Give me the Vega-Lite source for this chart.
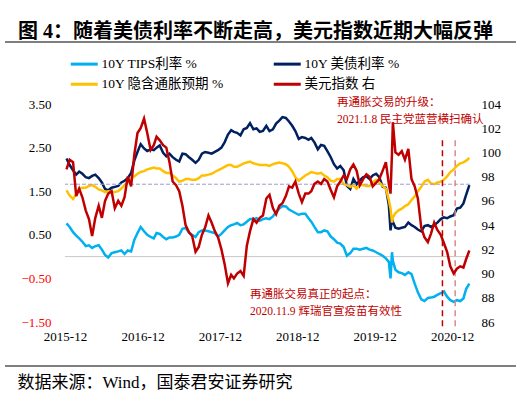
{
  "$schema": "https://vega.github.io/schema/vega-lite/v6.json",
  "width": 405,
  "height": 218,
  "autosize": {"type": "none"},
  "padding": {"left": 65, "top": 104, "right": 46, "bottom": 76},
  "background": "white",
  "config": {"view": {"stroke": null}, "font": "Liberation Serif, Noto Sans CJK SC"},
  "title": {
    "text": "图 4：随着美债利率不断走高，美元指数近期大幅反弹",
    "anchor": "start", "frame": "group", "dx": -47, "offset": -4, "dy": 17,
    "baseline": "bottom",
    "font": "Liberation Serif, Noto Sans CJK SC", "fontSize": 20, "fontWeight": "bold", "color": "black"
  },
  "datasets": {
    "main": [
      {"d":"2016-01-01","tips":0.76,"ust":2.25,"bei":1.52,"dxy":98.6},
      {"d":"2016-01-16","tips":0.68,"ust":2.10,"bei":1.40,"dxy":99.4},
      {"d":"2016-02-01","tips":0.56,"ust":1.98,"bei":1.32,"dxy":99.2},
      {"d":"2016-02-16","tips":0.48,"ust":1.88,"bei":1.44,"dxy":96.4},
      {"d":"2016-03-01","tips":0.42,"ust":1.95,"bei":1.56,"dxy":97.0},
      {"d":"2016-03-16","tips":0.34,"ust":1.90,"bei":1.58,"dxy":96.3},
      {"d":"2016-04-01","tips":0.24,"ust":1.82,"bei":1.58,"dxy":95.2},
      {"d":"2016-04-16","tips":0.26,"ust":1.80,"bei":1.62,"dxy":94.5},
      {"d":"2016-05-01","tips":0.20,"ust":1.85,"bei":1.64,"dxy":93.1},
      {"d":"2016-05-16","tips":0.24,"ust":1.88,"bei":1.60,"dxy":94.6},
      {"d":"2016-06-01","tips":0.26,"ust":1.80,"bei":1.54,"dxy":95.6},
      {"d":"2016-06-16","tips":0.16,"ust":1.70,"bei":1.52,"dxy":94.6},
      {"d":"2016-07-01","tips":0.04,"ust":1.55,"bei":1.48,"dxy":96.0},
      {"d":"2016-07-16","tips":-0.02,"ust":1.52,"bei":1.50,"dxy":96.6},
      {"d":"2016-08-01","tips":0.08,"ust":1.58,"bei":1.48,"dxy":96.8},
      {"d":"2016-08-16","tips":0.10,"ust":1.60,"bei":1.48,"dxy":95.4},
      {"d":"2016-09-01","tips":0.12,"ust":1.62,"bei":1.50,"dxy":96.0},
      {"d":"2016-09-16","tips":0.14,"ust":1.70,"bei":1.56,"dxy":95.6},
      {"d":"2016-10-01","tips":0.06,"ust":1.74,"bei":1.64,"dxy":96.3},
      {"d":"2016-10-16","tips":0.14,"ust":1.80,"bei":1.70,"dxy":98.0},
      {"d":"2016-11-01","tips":0.12,"ust":1.92,"bei":1.80,"dxy":97.2},
      {"d":"2016-11-16","tips":0.38,"ust":2.20,"bei":1.84,"dxy":99.8},
      {"d":"2016-12-01","tips":0.54,"ust":2.40,"bei":1.90,"dxy":101.6},
      {"d":"2016-12-16","tips":0.68,"ust":2.58,"bei":1.94,"dxy":102.0},
      {"d":"2017-01-01","tips":0.58,"ust":2.48,"bei":1.96,"dxy":102.8},
      {"d":"2017-01-16","tips":0.50,"ust":2.42,"bei":2.00,"dxy":101.6},
      {"d":"2017-02-01","tips":0.45,"ust":2.46,"bei":2.02,"dxy":100.2},
      {"d":"2017-02-16","tips":0.42,"ust":2.44,"bei":2.04,"dxy":100.6},
      {"d":"2017-03-01","tips":0.54,"ust":2.50,"bei":2.02,"dxy":101.3},
      {"d":"2017-03-16","tips":0.52,"ust":2.55,"bei":2.02,"dxy":101.0},
      {"d":"2017-04-01","tips":0.45,"ust":2.38,"bei":1.96,"dxy":100.6},
      {"d":"2017-04-16","tips":0.40,"ust":2.30,"bei":1.92,"dxy":100.4},
      {"d":"2017-05-01","tips":0.44,"ust":2.36,"bei":1.92,"dxy":99.2},
      {"d":"2017-05-16","tips":0.44,"ust":2.28,"bei":1.86,"dxy":97.6},
      {"d":"2017-06-01","tips":0.46,"ust":2.22,"bei":1.80,"dxy":97.3},
      {"d":"2017-06-16","tips":0.50,"ust":2.18,"bei":1.72,"dxy":96.8},
      {"d":"2017-07-01","tips":0.64,"ust":2.36,"bei":1.74,"dxy":95.6},
      {"d":"2017-07-16","tips":0.66,"ust":2.35,"bei":1.78,"dxy":94.0},
      {"d":"2017-08-01","tips":0.55,"ust":2.28,"bei":1.78,"dxy":93.4},
      {"d":"2017-08-16","tips":0.50,"ust":2.22,"bei":1.76,"dxy":93.1},
      {"d":"2017-09-01","tips":0.45,"ust":2.15,"bei":1.76,"dxy":91.8},
      {"d":"2017-09-16","tips":0.56,"ust":2.22,"bei":1.80,"dxy":92.2},
      {"d":"2017-10-01","tips":0.60,"ust":2.36,"bei":1.86,"dxy":93.2},
      {"d":"2017-10-16","tips":0.60,"ust":2.40,"bei":1.86,"dxy":93.8},
      {"d":"2017-11-01","tips":0.58,"ust":2.38,"bei":1.88,"dxy":94.8},
      {"d":"2017-11-16","tips":0.56,"ust":2.36,"bei":1.90,"dxy":94.2},
      {"d":"2017-12-01","tips":0.54,"ust":2.40,"bei":1.94,"dxy":93.5},
      {"d":"2017-12-16","tips":0.46,"ust":2.44,"bei":1.98,"dxy":93.0},
      {"d":"2018-01-01","tips":0.52,"ust":2.50,"bei":2.02,"dxy":92.0},
      {"d":"2018-01-16","tips":0.60,"ust":2.62,"bei":2.06,"dxy":90.8},
      {"d":"2018-02-01","tips":0.68,"ust":2.80,"bei":2.10,"dxy":89.2},
      {"d":"2018-02-16","tips":0.72,"ust":2.90,"bei":2.10,"dxy":89.9},
      {"d":"2018-03-01","tips":0.74,"ust":2.86,"bei":2.06,"dxy":89.6},
      {"d":"2018-03-16","tips":0.77,"ust":2.84,"bei":2.06,"dxy":90.0},
      {"d":"2018-04-01","tips":0.72,"ust":2.78,"bei":2.10,"dxy":90.2},
      {"d":"2018-04-16","tips":0.74,"ust":2.92,"bei":2.14,"dxy":89.8},
      {"d":"2018-05-01","tips":0.80,"ust":2.95,"bei":2.16,"dxy":92.3},
      {"d":"2018-05-16","tips":0.86,"ust":3.06,"bei":2.18,"dxy":93.5},
      {"d":"2018-06-01","tips":0.86,"ust":2.92,"bei":2.14,"dxy":94.5},
      {"d":"2018-06-16","tips":0.88,"ust":2.94,"bei":2.12,"dxy":94.2},
      {"d":"2018-07-01","tips":0.82,"ust":2.86,"bei":2.10,"dxy":94.6},
      {"d":"2018-07-16","tips":0.86,"ust":2.88,"bei":2.10,"dxy":94.8},
      {"d":"2018-08-01","tips":0.88,"ust":3.00,"bei":2.10,"dxy":96.2},
      {"d":"2018-08-16","tips":0.86,"ust":2.88,"bei":2.08,"dxy":96.5},
      {"d":"2018-09-01","tips":0.92,"ust":2.92,"bei":2.12,"dxy":95.4},
      {"d":"2018-09-16","tips":1.02,"ust":3.05,"bei":2.14,"dxy":94.9},
      {"d":"2018-10-01","tips":1.10,"ust":3.12,"bei":2.16,"dxy":95.6},
      {"d":"2018-10-16","tips":1.16,"ust":3.20,"bei":2.14,"dxy":95.8},
      {"d":"2018-11-01","tips":1.15,"ust":3.18,"bei":2.12,"dxy":96.4},
      {"d":"2018-11-16","tips":1.08,"ust":3.10,"bei":2.06,"dxy":97.2},
      {"d":"2018-12-01","tips":1.04,"ust":3.00,"bei":1.96,"dxy":97.1},
      {"d":"2018-12-16","tips":1.00,"ust":2.88,"bei":1.82,"dxy":97.6},
      {"d":"2019-01-01","tips":0.96,"ust":2.70,"bei":1.74,"dxy":96.6},
      {"d":"2019-01-16","tips":0.98,"ust":2.74,"bei":1.80,"dxy":95.9},
      {"d":"2019-02-01","tips":0.98,"ust":2.72,"bei":1.86,"dxy":96.6},
      {"d":"2019-02-16","tips":0.88,"ust":2.68,"bei":1.90,"dxy":96.6},
      {"d":"2019-03-01","tips":0.80,"ust":2.72,"bei":1.94,"dxy":96.8},
      {"d":"2019-03-16","tips":0.68,"ust":2.62,"bei":1.92,"dxy":97.4},
      {"d":"2019-04-01","tips":0.56,"ust":2.46,"bei":1.90,"dxy":97.6},
      {"d":"2019-04-16","tips":0.56,"ust":2.56,"bei":1.92,"dxy":97.4},
      {"d":"2019-05-01","tips":0.60,"ust":2.54,"bei":1.86,"dxy":97.8},
      {"d":"2019-05-16","tips":0.58,"ust":2.42,"bei":1.82,"dxy":97.6},
      {"d":"2019-06-01","tips":0.46,"ust":2.28,"bei":1.74,"dxy":96.9},
      {"d":"2019-06-16","tips":0.40,"ust":2.12,"bei":1.72,"dxy":96.3},
      {"d":"2019-07-01","tips":0.32,"ust":2.02,"bei":1.78,"dxy":97.2},
      {"d":"2019-07-16","tips":0.30,"ust":2.08,"bei":1.78,"dxy":97.6},
      {"d":"2019-08-01","tips":0.22,"ust":1.98,"bei":1.66,"dxy":98.1},
      {"d":"2019-08-16","tips":0.02,"ust":1.62,"bei":1.64,"dxy":97.8},
      {"d":"2019-09-01","tips":0.08,"ust":1.55,"bei":1.60,"dxy":98.6},
      {"d":"2019-09-16","tips":0.18,"ust":1.78,"bei":1.64,"dxy":99.0},
      {"d":"2019-10-01","tips":0.18,"ust":1.66,"bei":1.56,"dxy":98.5},
      {"d":"2019-10-16","tips":0.16,"ust":1.75,"bei":1.64,"dxy":97.3},
      {"d":"2019-11-01","tips":0.18,"ust":1.82,"bei":1.64,"dxy":97.8},
      {"d":"2019-11-16","tips":0.20,"ust":1.84,"bei":1.62,"dxy":98.2},
      {"d":"2019-12-01","tips":0.16,"ust":1.78,"bei":1.62,"dxy":98.0},
      {"d":"2019-12-16","tips":0.14,"ust":1.86,"bei":1.70,"dxy":97.2},
      {"d":"2020-01-01","tips":0.10,"ust":1.90,"bei":1.76,"dxy":97.5},
      {"d":"2020-01-16","tips":0.06,"ust":1.82,"bei":1.70,"dxy":97.8},
      {"d":"2020-02-01","tips":0.02,"ust":1.60,"bei":1.62,"dxy":98.5},
      {"d":"2020-02-16","tips":-0.04,"ust":1.58,"bei":1.56,"dxy":99.2},
      {"d":"2020-03-01","tips":-0.12,"ust":1.18,"bei":1.30,"dxy":97.4},
      {"d":"2020-03-09","tips":-0.50,"ust":0.60,"bei":1.10,"dxy":96.6},
      {"d":"2020-03-16","tips":0.10,"ust":0.86,"bei":0.78,"dxy":100.0},
      {"d":"2020-03-20","tips":-0.10,"ust":0.80,"bei":0.90,"dxy":102.5},
      {"d":"2020-04-01","tips":-0.30,"ust":0.66,"bei":1.00,"dxy":100.0},
      {"d":"2020-04-16","tips":-0.36,"ust":0.64,"bei":1.06,"dxy":99.8},
      {"d":"2020-05-01","tips":-0.38,"ust":0.66,"bei":1.10,"dxy":100.1},
      {"d":"2020-05-16","tips":-0.42,"ust":0.68,"bei":1.16,"dxy":99.4},
      {"d":"2020-06-01","tips":-0.36,"ust":0.78,"bei":1.20,"dxy":100.3},
      {"d":"2020-06-16","tips":-0.40,"ust":0.72,"bei":1.30,"dxy":97.8},
      {"d":"2020-07-01","tips":-0.62,"ust":0.68,"bei":1.38,"dxy":97.2},
      {"d":"2020-07-16","tips":-0.82,"ust":0.62,"bei":1.50,"dxy":96.2},
      {"d":"2020-08-01","tips":-0.98,"ust":0.58,"bei":1.60,"dxy":93.8},
      {"d":"2020-08-16","tips":-1.02,"ust":0.70,"bei":1.72,"dxy":93.0},
      {"d":"2020-09-01","tips":-0.95,"ust":0.72,"bei":1.76,"dxy":92.6},
      {"d":"2020-09-16","tips":-0.94,"ust":0.68,"bei":1.68,"dxy":93.3},
      {"d":"2020-10-01","tips":-0.92,"ust":0.72,"bei":1.66,"dxy":94.2},
      {"d":"2020-10-16","tips":-0.88,"ust":0.78,"bei":1.70,"dxy":93.6},
      {"d":"2020-11-01","tips":-0.84,"ust":0.86,"bei":1.72,"dxy":93.2},
      {"d":"2020-11-16","tips":-0.80,"ust":0.90,"bei":1.76,"dxy":92.5},
      {"d":"2020-12-01","tips":-0.92,"ust":0.88,"bei":1.84,"dxy":91.8},
      {"d":"2020-12-16","tips":-1.00,"ust":0.92,"bei":1.94,"dxy":90.6},
      {"d":"2021-01-01","tips":-1.04,"ust":0.95,"bei":2.00,"dxy":90.0},
      {"d":"2021-01-16","tips":-1.00,"ust":1.10,"bei":2.08,"dxy":90.4},
      {"d":"2021-02-01","tips":-1.02,"ust":1.12,"bei":2.14,"dxy":90.6},
      {"d":"2021-02-16","tips":-0.96,"ust":1.22,"bei":2.16,"dxy":90.5},
      {"d":"2021-03-01","tips":-0.74,"ust":1.42,"bei":2.20,"dxy":91.2},
      {"d":"2021-03-16","tips":-0.62,"ust":1.64,"bei":2.26,"dxy":91.9}
    ]
  },
  "layer": [
    {
      "layer": [
        {
          "data": {"values": [{}]},
          "mark": {"type": "rule", "color": "#C8C8C8", "strokeWidth": 1},
          "encoding": {
            "y": {"datum": 0, "type": "quantitative", "scale": {"domain": [-1.5, 3.5]}, "title": null}
          }
        },
        {
          "data": {"name": "main"},
          "transform": [{"fold": ["tips", "ust", "bei"], "as": ["k", "v"]}],
          "mark": {"type": "line", "strokeWidth": 2.5},
          "encoding": {
            "x": {
              "field": "d", "type": "temporal",
              "scale": {"type": "utc", "domain": [{"year": 2015, "month": 12, "date": 25, "utc": true}, {"year": 2021, "month": 3, "date": 19, "utc": true}]},
              "axis": {
                "values": [
                  {"year": 2015, "month": 12, "date": 25, "utc": true},
                  {"year": 2016, "month": 12, "date": 25, "utc": true},
                  {"year": 2017, "month": 12, "date": 25, "utc": true},
                  {"year": 2018, "month": 12, "date": 25, "utc": true},
                  {"year": 2019, "month": 12, "date": 25, "utc": true},
                  {"year": 2020, "month": 12, "date": 25, "utc": true}
                ],
                "format": "%Y-%m", "labelFont": "Liberation Serif", "labelFontSize": 13, "labelColor": "black",
                "ticks": false, "domain": false, "grid": false, "labelPadding": 8, "labelFlush": false, "labelOverlap": false,
                "title": "数据来源：Wind，国泰君安证券研究",
                "titleFont": "Liberation Serif, Noto Sans CJK SC", "titleFontSize": 17, "titleFontWeight": "normal", "titleColor": "black",
                "titleX": -48, "titleY": 60, "titleAlign": "left", "titleAnchor": "start", "titleBaseline": "middle"
              }
            },
            "y": {
              "field": "v", "type": "quantitative",
              "scale": {"domain": [-1.5, 3.5]},
              "axis": {
                "values": [-1.5, -1, -0.5, 0, 0.5, 1, 1.5, 2, 2.5, 3, 3.5],
                "format": ".2f", "labelFont": "Liberation Serif", "labelFontSize": 13, "labelOverlap": false,
                "labelColor": {"condition": {"test": "datum.value < 0", "value": "#FF0000"}, "value": "#000000"},
                "ticks": false, "domain": false, "grid": false, "labelPadding": 14, "title": null
              }
            },
            "color": {
              "field": "k", "type": "nominal",
              "scale": {"domain": ["tips", "bei", "ust", "dxy"], "range": ["#00B0F0", "#FFC000", "#002060", "#C00000"]},
              "legend": {
                "title": null, "orient": "none", "legendX": 3.5, "legendY": -47, "columns": 2, "columnPadding": 43, "rowPadding": 5.5,
                "padding": 0, "symbolType": "M-1,0H5", "symbolSize": 81, "symbolStrokeWidth": 3, "labelOffset": 19.5,
                "labelFont": "Liberation Serif, Noto Sans CJK SC", "labelFontSize": 13.5, "labelColor": "black", "labelLimit": 300,
                "labelExpr": "{'tips':'10Y TIPS利率 %','ust':'10Y 美债利率 %','bei':'10Y 隐含通胀预期 %','dxy':'美元指数 右'}[datum.value]"
              }
            }
          }
        },
        {
          "data": {"values": [{}]},
          "mark": {"type": "rule", "color": "#A09CCC", "strokeWidth": 1, "strokeDash": [4, 2]},
          "encoding": {
            "y": {"datum": 1.66, "type": "quantitative", "scale": {"domain": [-1.5, 3.5]}, "title": null}
          }
        },
        {
          "data": {"values": [{}]},
          "mark": {"type": "rule", "color": "#C00000", "strokeWidth": 1.5, "strokeDash": [6, 4]},
          "encoding": {
            "x": {"datum": {"year": 2020, "month": 11, "date": 9, "utc": true}, "type": "temporal"},
            "y": {"datum": 2.67, "type": "quantitative", "scale": {"domain": [-1.5, 3.5]}, "title": null},
            "y2": {"datum": -1.62}
          }
        },
        {
          "data": {"values": [{}]},
          "mark": {"type": "rule", "color": "#D98A8A", "strokeWidth": 1.5, "strokeDash": [6, 4]},
          "encoding": {
            "x": {"datum": {"year": 2021, "month": 1, "date": 8, "utc": true}, "type": "temporal"},
            "y": {"datum": 2.67, "type": "quantitative", "scale": {"domain": [-1.5, 3.5]}, "title": null},
            "y2": {"datum": -1.62}
          }
        },
        {
          "data": {"values": [{}]},
          "mark": {"type": "tick", "orient": "horizontal", "color": "#000000", "size": 511, "thickness": 1.2, "opacity": 1, "clip": false},
          "encoding": {
            "x": {"datum": {"year": 2018, "month": 7, "date": 4, "hours": 12, "utc": true}, "type": "temporal"},
            "y": {"datum": 4.922, "type": "quantitative", "scale": {"domain": [-1.5, 3.5]}, "title": null}
          }
        },
        {
          "data": {"values": [{}]},
          "mark": {"type": "tick", "orient": "horizontal", "color": "#000000", "size": 511, "thickness": 1.2, "opacity": 1, "clip": false},
          "encoding": {
            "x": {"datum": {"year": 2018, "month": 7, "date": 4, "hours": 12, "utc": true}, "type": "temporal"},
            "y": {"datum": -2.509, "type": "quantitative", "scale": {"domain": [-1.5, 3.5]}, "title": null}
          }
        },
        {
          "data": {"values": [{}]},
          "mark": {"type": "text", "text": ["再通胀交易的升级：", "2021.1.8 民主党蓝营横扫确认"], "align": "left", "baseline": "top", "fontSize": 11.5, "lineHeight": 17, "color": "#C00000", "font": "Liberation Serif, Noto Sans CJK SC"},
          "encoding": {
            "x": {"datum": {"year": 2019, "month": 6, "date": 30, "utc": true}, "type": "temporal"},
            "y": {"datum": 3.655, "type": "quantitative", "scale": {"domain": [-1.5, 3.5]}, "title": null}
          }
        },
        {
          "data": {"values": [{}]},
          "mark": {"type": "text", "text": ["再通胀交易真正的起点：", "2020.11.9 辉瑞官宣疫苗有效性"], "align": "left", "baseline": "top", "fontSize": 11.5, "lineHeight": 17, "color": "#C00000", "font": "Liberation Serif, Noto Sans CJK SC"},
          "encoding": {
            "x": {"datum": {"year": 2018, "month": 5, "date": 16, "utc": true}, "type": "temporal"},
            "y": {"datum": -0.743, "type": "quantitative", "scale": {"domain": [-1.5, 3.5]}, "title": null}
          }
        }
      ]
    },
    {
      "data": {"name": "main"},
      "transform": [{"fold": ["dxy"], "as": ["k", "v"]}],
      "mark": {"type": "line", "strokeWidth": 2.5},
      "encoding": {
        "x": {"field": "d", "type": "temporal"},
        "y": {
          "field": "v", "type": "quantitative",
          "scale": {"domain": [86, 104]},
          "axis": {
            "orient": "right", "values": [86, 88, 90, 92, 94, 96, 98, 100, 102, 104], "format": "d",
            "labelFont": "Liberation Serif", "labelFontSize": 13, "labelColor": "black", "labelOverlap": false,
            "ticks": false, "domain": false, "grid": false, "labelPadding": 11, "title": null
          }
        },
        "color": {"field": "k", "type": "nominal"}
      }
    }
  ],
  "resolve": {"scale": {"y": "independent"}}
}
